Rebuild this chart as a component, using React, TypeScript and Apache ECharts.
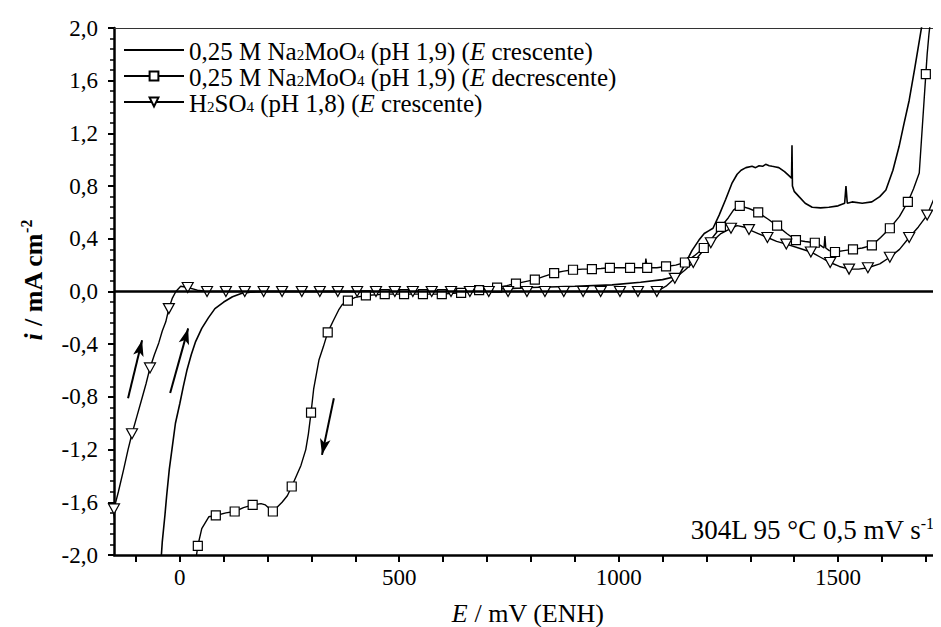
import React, { useEffect, useRef } from "react";
import * as echarts from "echarts";

// ---- data (E in mV vs ENH, i in mA cm^-2); third value 1 = point carries a marker
const ascName = "0,25 M Na2MoO4 (pH 1,9) (E crescente)";
const descName = "0,25 M Na2MoO4 (pH 1,9) (E decrescente)";
const acidName = "H2SO4 (pH 1,8) (E crescente)";

const ascE = [-44, -40, -34, -30, -24, -18, -10, 0, 8, 16, 26, 36, 50, 65, 80, 100, 120, 140, 160, 200, 300, 400, 500, 600, 700, 800, 900, 985, 1050, 1100, 1137, 1150, 1167, 1183, 1195, 1205, 1215, 1229, 1244, 1258, 1270, 1279, 1290, 1304, 1312, 1320, 1328, 1335, 1343, 1350, 1358, 1365, 1378, 1388, 1394, 1395, 1396, 1400, 1411, 1425, 1441, 1460, 1479, 1500, 1515, 1518, 1521, 1532, 1555, 1577, 1595, 1609, 1625, 1639, 1650, 1662, 1675, 1689, 1695];
const ascI = [-2.1, -1.9, -1.7, -1.55, -1.35, -1.2, -1.0, -0.85, -0.72, -0.6, -0.48, -0.38, -0.28, -0.2, -0.13, -0.08, -0.04, -0.015, -0.005, 0, 0, 0, 0, 0.005, 0.015, 0.03, 0.04, 0.05, 0.07, 0.09, 0.12, 0.2, 0.31, 0.39, 0.44, 0.46, 0.48, 0.58, 0.7, 0.82, 0.89, 0.92, 0.94, 0.95, 0.94, 0.955, 0.95, 0.965, 0.955, 0.95, 0.945, 0.94, 0.91, 0.88, 0.86, 1.11, 0.8, 0.76, 0.72, 0.67, 0.64, 0.635, 0.64, 0.65, 0.67, 0.8, 0.67, 0.68, 0.67, 0.68, 0.72, 0.77, 0.92, 1.1, 1.27, 1.45, 1.7, 1.98, 2.1];

const descPts: number[][] = [
  [1712, 2.1, 0], [1707, 1.95, 0], [1703, 1.8, 0], [1700, 1.65, 1], [1696, 1.45, 0], [1690, 1.15, 0], [1685, 0.9, 0],
  [1672, 0.78, 0], [1659, 0.68, 1], [1640, 0.57, 0], [1618, 0.48, 1], [1597, 0.41, 0], [1577, 0.35, 1], [1555, 0.33, 0],
  [1534, 0.32, 1], [1513, 0.31, 0], [1493, 0.3, 1], [1480, 0.31, 0], [1472, 0.33, 0], [1470, 0.42, 0], [1468, 0.33, 0],
  [1460, 0.35, 0], [1447, 0.37, 1], [1425, 0.38, 0], [1404, 0.39, 1], [1383, 0.44, 0], [1361, 0.5, 1], [1340, 0.55, 0],
  [1318, 0.6, 1], [1297, 0.63, 0], [1276, 0.65, 1], [1262, 0.62, 0], [1250, 0.56, 0], [1233, 0.49, 1], [1214, 0.41, 0],
  [1194, 0.33, 1], [1172, 0.27, 0], [1151, 0.22, 1], [1130, 0.2, 0], [1108, 0.19, 1], [1087, 0.18, 0], [1065, 0.18, 1],
  [1062, 0.25, 0], [1060, 0.18, 0], [1045, 0.18, 0], [1026, 0.18, 1], [1003, 0.18, 0], [980, 0.18, 1], [960, 0.175, 0],
  [939, 0.17, 1], [918, 0.17, 0], [896, 0.165, 1], [875, 0.155, 0], [853, 0.14, 1], [830, 0.115, 0], [809, 0.09, 1],
  [787, 0.075, 0], [766, 0.06, 1], [745, 0.045, 0], [723, 0.03, 1], [702, 0.02, 0], [682, 0.01, 1], [661, 0.0, 0],
  [641, -0.01, 1], [597, -0.02, 1], [554, -0.02, 1], [511, -0.02, 1], [467, -0.02, 1], [424, -0.03, 1], [400, -0.045, 0],
  [383, -0.07, 1], [370, -0.1, 0], [362, -0.14, 0], [350, -0.22, 0], [337, -0.31, 1], [327, -0.42, 0], [317, -0.52, 0],
  [305, -0.74, 0], [299, -0.92, 1], [293, -1.08, 0], [287, -1.2, 0], [276, -1.32, 0], [255, -1.48, 1], [245, -1.55, 0],
  [233, -1.6, 0], [212, -1.67, 1], [195, -1.62, 0], [185, -1.61, 0], [166, -1.62, 1], [145, -1.64, 0], [125, -1.67, 1],
  [105, -1.68, 0], [82, -1.7, 1], [66, -1.71, 0], [50, -1.8, 0], [41, -1.93, 1], [36, -2.05, 0],
];

const acidPts: number[][] = [
  [-160, -1.85, 0], [-150, -1.65, 1], [-140, -1.52, 0], [-128, -1.35, 0], [-118, -1.2, 0], [-109, -1.08, 1], [-98, -0.95, 0],
  [-87, -0.82, 0], [-77, -0.7, 0], [-68, -0.58, 1], [-58, -0.48, 0], [-48, -0.39, 0], [-40, -0.3, 0], [-32, -0.23, 0],
  [-25, -0.13, 1], [-17, -0.05, 0], [-9, 0.0, 0], [2, 0.04, 0], [18, 0.03, 1], [40, 0.01, 0], [62, 0, 1], [105, 0, 1],
  [148, 0, 1], [191, 0, 1], [233, 0, 1], [278, 0, 1], [319, 0, 1], [360, 0, 1], [404, 0, 1], [447, 0, 1], [490, 0, 1],
  [531, 0, 1], [574, 0, 1], [618, 0, 1], [661, 0, 1], [704, 0, 1], [748, 0, 1], [791, 0, 1], [832, 0, 1], [875, 0, 1],
  [919, 0, 1], [959, 0, 1], [1003, 0, 1], [1044, 0, 1], [1087, 0, 1], [1108, 0.04, 0], [1128, 0.1, 1], [1150, 0.16, 0],
  [1170, 0.22, 1], [1190, 0.3, 0], [1210, 0.37, 1], [1233, 0.44, 0], [1256, 0.48, 1], [1270, 0.5, 0], [1285, 0.49, 0],
  [1297, 0.47, 1], [1318, 0.44, 0], [1339, 0.41, 1], [1360, 0.38, 0], [1382, 0.36, 1], [1410, 0.33, 0], [1438, 0.3, 1],
  [1460, 0.26, 0], [1482, 0.22, 1], [1503, 0.19, 0], [1525, 0.17, 1], [1547, 0.17, 0], [1568, 0.18, 1], [1595, 0.21, 0],
  [1618, 0.26, 1], [1640, 0.32, 0], [1662, 0.41, 1], [1683, 0.49, 0], [1703, 0.58, 1], [1718, 0.7, 0], [1732, 0.87, 0],
  [1740, 0.98, 0],
];

// arrows: [E start, i start, E end, i end]
const arrows = [
  [-118, -0.81, -86, -0.37],
  [-22, -0.77, 19, -0.28],
  [351, -0.81, 324, -1.24],
];

const xMin = -150;
const xMax = 1730;
const yMin = -2;
const yMax = 2;
const yStep = 0.4;

const FONT = "Liberation Serif";

const richBase = {
  t: { fontFamily: FONT, fontSize: 25, color: "#000", lineHeight: 22, verticalAlign: "top" },
  i: { fontFamily: FONT, fontSize: 25, color: "#000", fontStyle: "italic", lineHeight: 22, verticalAlign: "top" },
  s: { fontFamily: FONT, fontSize: 15, color: "#000", lineHeight: 22, padding: [9, 0, 0, 0] },
};

const legendRich: Record<string, string> = {
  [ascName]: "{t|0,25 M Na}{s|2}{t|MoO}{s|4}{t| (pH 1,9) (}{i|E}{t| crescente)}",
  [descName]: "{t|0,25 M Na}{s|2}{t|MoO}{s|4}{t| (pH 1,9) (}{i|E}{t| decrescente)}",
  [acidName]: "{t|H}{s|2}{t|SO}{s|4}{t| (pH 1,8) (}{i|E}{t| crescente)}",
};

const SQUARE = "rect";
const TRI_DOWN = "path://M0,0L10,0L5,9Z";

function toData(pts: number[][], symbol: string) {
  return pts.map((p) =>
    p[2] ? { value: [p[0], p[1]], symbol } : { value: [p[0], p[1]], symbol: "none" }
  );
}

export default function App() {
  const ref = useRef<HTMLDivElement>(null);

  useEffect(() => {
    if (!ref.current) return;
    const chart = echarts.init(ref.current, null, { renderer: "svg" });

    const option: any = {
      animation: false,
      backgroundColor: "#fff",
      textStyle: { fontFamily: FONT },
      grid: { left: 114, top: 28, width: 825, height: 527 },
      legend: {
        show: true,
        orient: "vertical",
        left: 118,
        top: 33,
        itemWidth: 60,
        itemHeight: 11,
        itemGap: 0,
        selectedMode: false,
        data: [
          { name: ascName, itemStyle: { opacity: 0 } },
          { name: descName },
          { name: acidName },
        ],
        formatter: (name: string) => legendRich[name] || name,
        textStyle: { fontFamily: FONT, fontSize: 25, color: "#000", rich: richBase },
      },
      xAxis: [
        {
          type: "value",
          min: xMin,
          max: xMax,
          splitNumber: 19,
          splitLine: { show: false },
          axisLine: { onZero: false, lineStyle: { color: "#000", width: 2.5 } },
          axisTick: { show: true, length: 7, lineStyle: { color: "#000", width: 2 } },
          axisLabel: {
            showMinLabel: false,
            showMaxLabel: false,
            margin: 11,
            fontFamily: FONT,
            fontSize: 23,
            color: "#000",
            formatter: (v: number) => (v % 500 === 0 ? String(v) : ""),
          },
        },
        {
          type: "value",
          position: "top",
          min: xMin,
          max: xMax,
          splitLine: { show: false },
          axisLine: { onZero: false, lineStyle: { color: "#333", width: 1 } },
          axisTick: { show: false },
          axisLabel: { show: false },
        },
      ],
      yAxis: {
        type: "value",
        min: yMin,
        max: yMax,
        interval: yStep,
        splitLine: { show: false },
        axisLine: { onZero: false, lineStyle: { color: "#000", width: 2.5 } },
        axisTick: { show: true, length: 6, lineStyle: { color: "#000", width: 2 } },
        minorTick: { show: true, splitNumber: 5, length: 4, lineStyle: { color: "#000", width: 1.5 } },
        axisLabel: {
          margin: 16,
          fontFamily: FONT,
          fontSize: 23,
          color: "#000",
          formatter: (v: number) => (Math.abs(v) < 1e-9 ? 0 : v).toFixed(1).replace(".", ","),
        },
      },
      series: [
        {
          name: ascName,
          type: "line",
          symbol: "none",
          data: ascE.map((e, k) => [e, ascI[k]]),
          lineStyle: { color: "#000", width: 1.6 },
          itemStyle: { color: "#000" },
          z: 3,
          markLine: {
            silent: true,
            symbol: "none",
            label: { show: false },
            lineStyle: { color: "#000", width: 2.5, type: "solid" },
            data: [{ yAxis: 0 }],
          },
        },
        {
          name: descName,
          type: "line",
          symbol: SQUARE,
          symbolSize: 9,
          showAllSymbol: true,
          data: toData(descPts, SQUARE),
          lineStyle: { color: "#000", width: 1.4 },
          itemStyle: { color: "#fff", borderColor: "#000", borderWidth: 1.2 },
          z: 4,
        },
        {
          name: acidName,
          type: "line",
          symbol: TRI_DOWN,
          symbolSize: [11, 10],
          showAllSymbol: true,
          data: toData(acidPts, TRI_DOWN),
          lineStyle: { color: "#000", width: 1.4 },
          itemStyle: { color: "#fff", borderColor: "#000", borderWidth: 1.2 },
          z: 4,
        },
        {
          name: "arrows",
          type: "line",
          data: [],
          markLine: {
            silent: true,
            label: { show: false },
            lineStyle: { color: "#000", width: 2, type: "solid" },
            data: arrows.map((a) => [
              { coord: [a[0], a[1]], symbol: "none" },
              { coord: [a[2], a[3]], symbol: "arrow", symbolSize: [8, 16] },
            ]),
          },
        },
      ],
      graphic: [
        {
          type: "text",
          x: 33,
          y: 280,
          rotation: Math.PI / 2,
          style: {
            text: "{i|i}{t| / mA cm}{p|-2}",
            align: "center",
            verticalAlign: "middle",
            rich: {
              i: { fontFamily: FONT, fontSize: 26, fontStyle: "italic", fontWeight: "bold", fill: "#000", lineHeight: 28 },
              t: { fontFamily: FONT, fontSize: 26, fontWeight: "bold", fill: "#000", lineHeight: 28 },
              p: { fontFamily: FONT, fontSize: 16, fontWeight: "bold", fill: "#000", lineHeight: 14, padding: [0, 0, 14, 0] },
            },
          },
        },
        {
          type: "text",
          x: 528,
          y: 613,
          style: {
            text: "{i|E}{t| / mV (ENH)}",
            align: "center",
            verticalAlign: "middle",
            rich: {
              i: { fontFamily: FONT, fontSize: 26, fontStyle: "italic", fill: "#000" },
              t: { fontFamily: FONT, fontSize: 26, fill: "#000" },
            },
          },
        },
        {
          type: "text",
          x: 934,
          y: 530,
          style: {
            text: "{t|304L 95 °C 0,5 mV s}{p|-1}",
            align: "right",
            verticalAlign: "middle",
            rich: {
              t: { fontFamily: FONT, fontSize: 27, fill: "#000", lineHeight: 28 },
              p: { fontFamily: FONT, fontSize: 16, fill: "#000", lineHeight: 14, padding: [0, 0, 14, 0] },
            },
          },
        },
      ],
    };

    chart.setOption(option);
    return () => chart.dispose();
  }, []);

  return <div ref={ref} style={{ width: 941, height: 627, marginLeft: -8, marginTop: -8 }} />;
}
